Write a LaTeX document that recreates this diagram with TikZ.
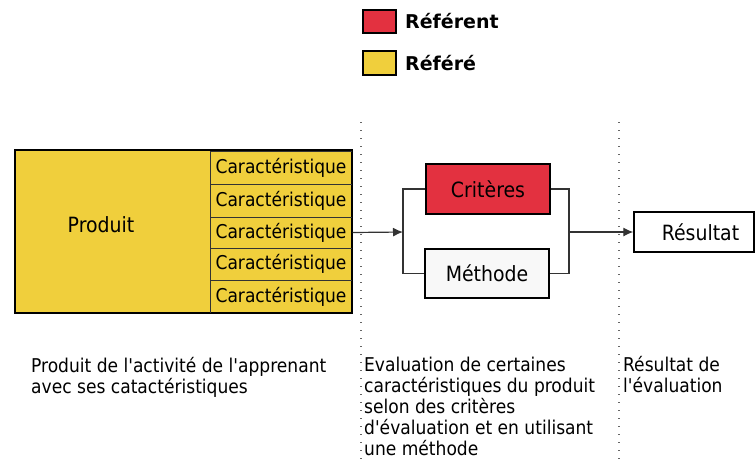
\documentclass[tikz,border=0pt]{standalone}
\usepackage{fontspec}
\newfontfamily\djv{DejaVu Sans Condensed}
\newfontfamily\djvb{DejaVu Sans}
\usetikzlibrary{arrows.meta}
\definecolor{refred}{HTML}{E33140}
\definecolor{refyel}{HTML}{F0CF3C}
\definecolor{methfill}{HTML}{F8F8F8}
\begin{document}
\begin{tikzpicture}[x=1pt,y=-1pt,
  every node/.style={font=\djv\fontsize{19}{21}\selectfont},
  big/.style={font=\djv\fontsize{21}{24}\selectfont},
  box/.style={draw=black,line width=1.3pt,inner sep=0pt},
  cell/.style={draw=black!80,line width=1pt,inner sep=0pt,minimum width=142pt},
  legendbox/.style={draw=black,line width=1.3pt,inner sep=0pt,minimum width=33pt},
  legendtxt/.style={anchor=west,inner sep=0pt,font=\djvb\bfseries\fontsize{19}{21}\selectfont},
  sep/.style={draw=black!60,line width=1.4pt,dash pattern=on 1.4pt off 6.6pt},
  conn/.style={draw=black!80,line width=1.2pt},
  arr/.style={conn,-{Latex[length=10pt,width=9pt]}},
  note/.style={anchor=base west,align=left,inner sep=0pt}]
\useasboundingbox (0,0) rectangle (755,459);
% legend
\node[legendbox,fill=refred,minimum height=23pt] (lr) at (379.5,21.5) {};
\node[legendtxt] (lrt) at (405,21) {Référent};
\node[legendbox,fill=refyel,minimum height=24pt] (ly) at (379.5,63) {};
\node[legendtxt] (lyt) at (405,63) {Référé};
% separators
\coordinate (s1t) at (361,122); \coordinate (s1b) at (361,459);
\coordinate (s2t) at (619,122); \coordinate (s2b) at (619,459);
\draw[sep] (s1t) -- (s1b);
\draw[sep] (s2t) -- (s2b);
% product
\node[box,fill=refyel,minimum width=337pt,minimum height=163pt] (prod) at (183.5,231.5) {};
\node[big] (prodtxt) at (101,225) {Produit};
\node[cell,minimum height=33pt] (c1) at (281,167.5) {Caractéristique};
\node[cell,minimum height=33pt] (c2) at (281,200.5) {Caractéristique};
\node[cell,minimum height=31pt] (c3) at (281,232.5) {Caractéristique};
\node[cell,minimum height=32pt] (c4) at (281,264) {Caractéristique};
\node[cell,minimum height=33pt] (c5) at (281,296.5) {Caractéristique};
\draw[box,fill=none] (prod.north west) rectangle (prod.south east);
% evaluation
\node[box,big,fill=refred,minimum width=124pt,minimum height=50pt] (crit) at (488,189) {Critères};
\node[box,big,fill=methfill,minimum width=124pt,minimum height=49pt] (meth) at (487,273.5) {Méthode\hspace{14pt}};
\coordinate (jl) at (403,232);
\coordinate (jr) at (569,232);
\draw[conn] (crit.west) -| (jl) |- (meth.west);
\draw[conn] (crit.east) -| (jr) |- (meth.east);
\draw[arr] (c3.east) -- (jl);
% result
\node[box,big,fill=white,minimum width=120pt,minimum height=40pt] (res) at (694,232) {\hspace{13pt}Résultat};
\draw[arr] (jr) -- (res.west);
% notes (anchored at the baseline of the last line)
\node[note] (n1) at (31,393) {Produit de l'activité de l'apprenant\\avec ses catactéristiques};
\node[note] (n2) at (364,455) {Evaluation de certaines\\caractéristiques du produit\\selon des critères\\d'évaluation et en utilisant\\une méthode};
\node[note] (n3) at (623,392) {Résultat de\\l'évaluation};
\end{tikzpicture}
\end{document}
